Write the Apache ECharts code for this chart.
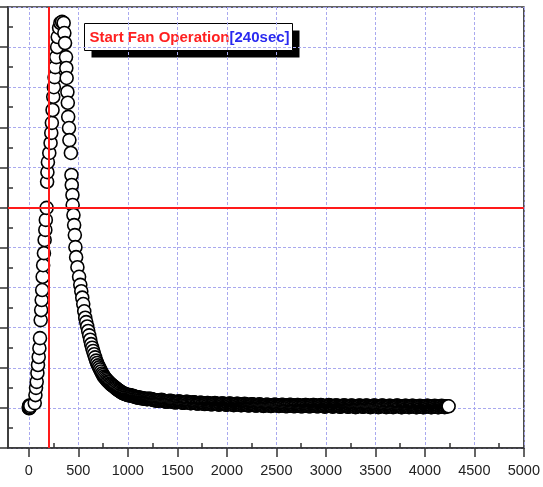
<!DOCTYPE html>
<html>
<head>
<meta charset="utf-8">
<script src="https://cdn.jsdelivr.net/npm/echarts@6/dist/echarts.min.js"></script>
<style>
  html, body { margin: 0; padding: 0; background: #fff; }
  #chart { width: 543px; height: 487px; }
</style>
</head>
<body>
<div id="chart"></div>
<script>
// axis ticks
const xMajorTicks = [0, 500, 1000, 1500, 2000, 2500, 3000, 3500, 4000, 4500, 5000];
const xMinorTicks = [250, 750, 1250, 1750, 2250, 2750, 3250, 3750, 4250, 4750];
const yMinorTicks = [0.5, 1.5, 2.5, 3.5, 4.5, 5.5, 6.5, 7.5, 8.5, 9.5, 10.5];

// rise / peak / fast fall (sec, value)
const peakTimes = [0, 2, 4, 6, 8, 10, 12, 15, 60, 67, 73, 80, 87, 93, 100, 107, 113, 120, 125, 130, 135, 140,
  145, 153, 160, 167, 172, 180, 185, 188, 193, 207, 220, 227, 233, 240, 247, 253, 260, 267, 277, 286,
  292, 306, 319, 336, 352, 359, 366, 376, 379, 382, 390, 394, 398, 406, 410, 425, 431, 434, 441, 443,
  451, 458, 465, 471, 478, 491, 508];
const peakValues = [1.00, 1.03, 0.99, 1.06, 1.01, 1.05, 1.02, 1.05, 1.12, 1.32, 1.50, 1.65, 1.87, 2.07, 2.27, 2.49, 2.74, 3.19, 3.44, 3.69, 3.94, 4.27,
  4.56, 4.86, 5.19, 5.44, 5.69, 5.99, 6.64, 6.88, 7.13, 7.36, 7.61, 7.86, 8.11, 8.43, 8.76, 9.00, 9.25, 9.50, 9.75, 10.00,
  10.25, 10.48, 10.60, 10.63, 10.60, 10.35, 10.10, 9.75, 9.48, 9.23, 8.88, 8.61, 8.26, 7.98, 7.68, 7.36, 6.81, 6.56, 6.31, 6.06,
  5.81, 5.56, 5.31, 5.01, 4.76, 4.51, 4.27];

// decay, sampled every 10 sec from 520 sec
const decayStart = 520, decayStep = 10;
const decayValues = [4.07, 3.91, 3.75, 3.59, 3.41, 3.25, 3.14, 3.03, 2.92, 2.81,
  2.70, 2.59, 2.50, 2.42, 2.34, 2.26, 2.18, 2.12, 2.06, 2.01,
  1.96, 1.91, 1.86, 1.82, 1.78, 1.75, 1.72, 1.69, 1.66, 1.64,
  1.61, 1.59, 1.57, 1.55, 1.53, 1.51, 1.49, 1.47, 1.45, 1.43,
  1.42, 1.40, 1.38, 1.37, 1.36, 1.35, 1.34, 1.33, 1.32];

// steady tail, sampled every 10 sec from 1010 sec
const tailStart = 1010, tailStep = 10;
const tailValues = [
  1.32, 1.32, 1.31, 1.30, 1.30, 1.29, 1.28, 1.27, 1.27, 1.26,
  1.26, 1.25, 1.25, 1.24, 1.24, 1.23, 1.23, 1.23, 1.22, 1.22,
  1.23, 1.23, 1.22, 1.22, 1.21, 1.20, 1.19, 1.19, 1.18, 1.18,
  1.18, 1.19, 1.19, 1.20, 1.19, 1.18, 1.17, 1.16, 1.16, 1.16,
  1.17, 1.17, 1.18, 1.17, 1.16, 1.15, 1.14, 1.14, 1.14, 1.15,
  1.16, 1.16, 1.15, 1.14, 1.13, 1.13, 1.13, 1.14, 1.15, 1.15,
  1.14, 1.13, 1.12, 1.12, 1.13, 1.14, 1.14, 1.13, 1.12, 1.11,
  1.11, 1.12, 1.13, 1.13, 1.12, 1.11, 1.10, 1.10, 1.11, 1.12,
  1.12, 1.11, 1.10, 1.09, 1.09, 1.10, 1.11, 1.12, 1.11, 1.10,
  1.09, 1.08, 1.09, 1.10, 1.11, 1.11, 1.10, 1.09, 1.08, 1.08,
  1.09, 1.10, 1.11, 1.10, 1.09, 1.08, 1.07, 1.08, 1.09, 1.10,
  1.10, 1.09, 1.08, 1.07, 1.07, 1.08, 1.09, 1.10, 1.09, 1.08,
  1.07, 1.06, 1.07, 1.08, 1.09, 1.09, 1.08, 1.07, 1.06, 1.06,
  1.07, 1.08, 1.09, 1.08, 1.07, 1.06, 1.05, 1.06, 1.07, 1.08,
  1.08, 1.07, 1.06, 1.05, 1.05, 1.06, 1.07, 1.08, 1.08, 1.07,
  1.06, 1.05, 1.05, 1.06, 1.07, 1.08, 1.07, 1.06, 1.05, 1.04,
  1.05, 1.06, 1.07, 1.08, 1.07, 1.06, 1.05, 1.04, 1.05, 1.06,
  1.07, 1.07, 1.06, 1.05, 1.04, 1.04, 1.05, 1.06, 1.07, 1.07,
  1.06, 1.05, 1.04, 1.04, 1.05, 1.06, 1.07, 1.07, 1.06, 1.05,
  1.04, 1.04, 1.05, 1.06, 1.07, 1.06, 1.05, 1.04, 1.03, 1.04,
  1.05, 1.06, 1.07, 1.06, 1.05, 1.04, 1.03, 1.04, 1.05, 1.06,
  1.06, 1.05, 1.04, 1.03, 1.03, 1.04, 1.05, 1.06, 1.06, 1.05,
  1.04, 1.03, 1.03, 1.04, 1.05, 1.06, 1.05, 1.04, 1.03, 1.02,
  1.03, 1.04, 1.05, 1.06, 1.05, 1.04, 1.03, 1.03, 1.04, 1.05,
  1.06, 1.05, 1.04, 1.03, 1.02, 1.03, 1.04, 1.05, 1.06, 1.05,
  1.04, 1.03, 1.02, 1.03, 1.04, 1.05, 1.06, 1.05, 1.04, 1.03,
  1.02, 1.03, 1.04, 1.05, 1.05, 1.04, 1.03, 1.02, 1.03, 1.04,
  1.05, 1.06, 1.05, 1.04, 1.03, 1.02, 1.02, 1.03, 1.04, 1.05,
  1.05, 1.04, 1.03, 1.02, 1.03, 1.04, 1.05, 1.05, 1.04, 1.03,
  1.02, 1.02, 1.03, 1.04, 1.05, 1.04, 1.03, 1.02, 1.02, 1.03,
  1.04, 1.05, 1.05, 1.04, 1.03, 1.02, 1.02, 1.03, 1.04, 1.05,
  1.04, 1.03, 1.02, 1.02, 1.03, 1.04, 1.05, 1.04, 1.03, 1.02,
  1.03, 1.04, 1.04, 1.04];

const fanStartSec = 203;   // where the red marker line sits
const thresholdValue = 6;

const points = [];
peakTimes.forEach((t, i) => points.push([t, peakValues[i]]));
decayValues.forEach((v, i) => points.push([decayStart + i * decayStep, v]));
tailValues.forEach((v, i) => points.push([tailStart + i * tailStep, v]));

const chart = echarts.init(document.getElementById('chart'), null, { renderer: 'canvas' });

const axisColor = '#333';
const gridLine = { show: true, lineStyle: { color: '#a9a9ef', type: [3, 2], width: 1 } };

chart.setOption({
  animation: false,
  grid: {
    left: 8, right: 12, top: 7, bottom: 39,
    show: true, borderColor: axisColor, borderWidth: 1.5, backgroundColor: '#fff'
  },
  xAxis: [
    {
      type: 'value', min: -210, max: 5000, position: 'bottom',
      axisLine: { onZero: false, lineStyle: { color: axisColor, width: 1.5 } },
      axisTick: { customValues: xMajorTicks, length: 9, lineStyle: { color: axisColor, width: 1.5 } },
      axisLabel: {
        customValues: xMajorTicks, margin: 15, color: '#222', fontSize: 14.5,
        fontFamily: 'Liberation Sans, Arial, sans-serif',
        formatter: v => String(v)
      },
      splitLine: gridLine
    },
    {
      type: 'value', min: -210, max: 5000, position: 'bottom',
      axisLine: { show: false, onZero: false },
      axisTick: { customValues: xMinorTicks, inside: true, length: 5, lineStyle: { color: axisColor, width: 1.5 } },
      axisLabel: { show: false },
      splitLine: { show: false }
    }
  ],
  yAxis: [
    {
      type: 'value', min: 0, max: 11, interval: 1, position: 'left',
      axisLine: { show: true, onZero: false, lineStyle: { color: axisColor, width: 1.5 } },
      axisTick: { show: true, length: 9, lineStyle: { color: axisColor, width: 1.5 } },
      axisLabel: { show: false },
      splitLine: gridLine
    },
    {
      type: 'value', min: 0, max: 11, position: 'left',
      axisLine: { show: false, onZero: false },
      axisTick: { show: true, customValues: yMinorTicks, inside: true, length: 5, lineStyle: { color: axisColor, width: 1.5 } },
      axisLabel: { show: false },
      splitLine: { show: false }
    }
  ],
  series: [
    {
      type: 'scatter',
      xAxisIndex: 0, yAxisIndex: 0,
      data: points,
      symbol: 'circle',
      symbolSize: 13,
      itemStyle: { color: '#fff', borderColor: '#000', borderWidth: 1.6, opacity: 1 },
      markLine: {
        silent: true,
        symbol: 'none',
        label: { show: false },
        lineStyle: { color: '#ff1a1a', width: 2, type: 'solid' },
        data: [{ xAxis: fanStartSec }, { yAxis: thresholdValue }]
      }
    }
  ],
  graphic: [
    {
      type: 'group', left: 84, top: 23,
      children: [
        { type: 'rect', shape: { x: 7, y: 7, width: 208, height: 27 }, style: { fill: '#000' } },
        { type: 'rect', shape: { x: 0, y: 0, width: 208, height: 27 }, style: { fill: '#fff', stroke: '#000', lineWidth: 1 } },
        {
          type: 'text', x: 5, y: 14,
          style: {
            text: '{r|Start Fan Operation}{b|[240sec]}',
            verticalAlign: 'middle',
            rich: {
              r: { fill: '#ff2020', fontWeight: 'bold', fontSize: 15, fontFamily: 'Liberation Sans Narrow, Arial Narrow, sans-serif' },
              b: { fill: '#2a2af0', fontWeight: 'bold', fontSize: 15, fontFamily: 'Liberation Sans Narrow, Arial Narrow, sans-serif' }
            }
          }
        }
      ]
    }
  ]
});
</script>
</body>
</html>
